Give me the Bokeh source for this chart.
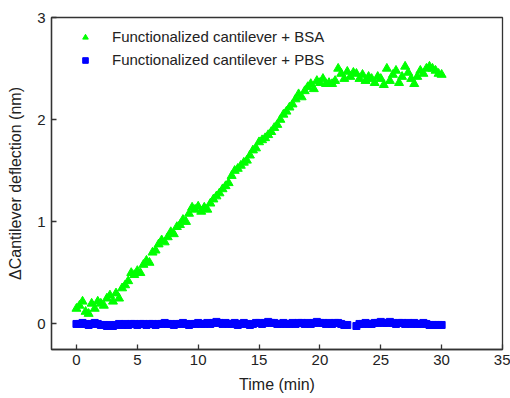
from bokeh.plotting import figure
from bokeh.embed import file_html
from bokeh.resources import INLINE
from bokeh.models import Legend, LegendItem, FixedTicker

# ---- data ----
bsa_time = [i * 0.25 for i in range(121)]
bsa_deflection = [
    0.15, 0.18, 0.22, 0.12, 0.10, 0.20, 0.15, 0.22, 0.20, 0.18,
    0.25, 0.28, 0.22, 0.30, 0.25, 0.35, 0.38, 0.42, 0.50, 0.48,
    0.52, 0.50, 0.58, 0.62, 0.60, 0.70, 0.72, 0.78, 0.82, 0.80,
    0.85, 0.90, 0.88, 0.95, 0.97, 1.02, 1.00, 1.08, 1.14, 1.12,
    1.15, 1.10, 1.14, 1.12, 1.18, 1.22, 1.25, 1.28, 1.32, 1.35,
    1.38, 1.45, 1.50, 1.52, 1.55, 1.58, 1.60, 1.65, 1.70, 1.72,
    1.78, 1.80, 1.82, 1.85, 1.88, 1.92, 1.95, 2.00, 2.05, 2.08,
    2.12, 2.15, 2.20, 2.25, 2.22, 2.28, 2.32, 2.35, 2.30, 2.38,
    2.36, 2.40, 2.35, 2.36, 2.35, 2.38, 2.50, 2.45, 2.40, 2.47,
    2.42, 2.46, 2.45, 2.40, 2.44, 2.38, 2.42, 2.40, 2.36, 2.42,
    2.40, 2.34, 2.50, 2.38, 2.44, 2.48, 2.36, 2.42, 2.52, 2.46,
    2.40, 2.35, 2.42, 2.48, 2.45, 2.50, 2.52, 2.50, 2.48, 2.45,
    2.44,
]

pbs_time = [i * 0.25 for i in range(121) if not (22.4 < i * 0.25 < 23.0)]
pbs_deflection = [
    0.00, 0.00, 0.01, 0.00, -0.01, 0.00, 0.01, 0.00, -0.01, -0.01,
    -0.02, -0.01, -0.02, -0.01, 0.00, -0.01, 0.00, -0.01, 0.00, 0.00,
    -0.01, 0.00, 0.00, -0.01, 0.00, 0.00, -0.01, 0.00, 0.00, 0.01,
    0.00, 0.00, -0.01, 0.00, 0.00, 0.01, 0.00, -0.01, 0.00, 0.00,
    0.01, 0.00, 0.00, 0.01, 0.00, 0.01, 0.02, 0.01, 0.00, 0.01,
    0.00, 0.00, 0.01, -0.01, 0.00, 0.01, 0.00, -0.01, 0.00, 0.01,
    0.01, 0.00, 0.01, 0.02, 0.01, 0.01, 0.00, 0.00, 0.01, 0.00,
    0.00, 0.01, 0.00, 0.01, 0.01, 0.00, 0.01, 0.00, 0.01, 0.02,
    0.01, 0.01, 0.00, 0.01, 0.00, 0.01, 0.01, 0.00, -0.01, -0.01,
    -0.02,
    0.00, 0.00, 0.01, 0.00, 0.00, 0.01, 0.01, 0.02, 0.01, 0.01,
    0.02, 0.01, 0.00, 0.01, 0.01, 0.00, 0.01, 0.00, 0.01, 0.00,
    0.00, 0.01, 0.00, -0.01, -0.01, -0.01, -0.01, -0.01,
]

x_ticks = [0, 5, 10, 15, 20, 25, 30, 35]
y_ticks = [0, 1, 2, 3]
bsa_label = "Functionalized cantilever + BSA"
pbs_label = "Functionalized cantilever + PBS"

FONT = "Liberation Sans"
TXT = "#222222"

p = figure(width=510, height=398, output_backend="svg", toolbar_location=None,
           x_range=(-2.05, 35), y_range=(-0.25, 3.0),
           min_border_left=51, min_border_right=8, min_border_top=17, min_border_bottom=49)

p.xgrid.visible = False
p.ygrid.visible = False
p.outline_line_color = "#333333"
p.outline_line_width = 1.3
p.background_fill_color = "white"
p.border_fill_color = "white"

n = min(len(pbs_time), len(pbs_deflection))
r_pbs = p.scatter(pbs_time[:n], pbs_deflection[:n], marker="square", size=7,
                  fill_color="#0000ff", line_color="#0000ff")
r_bsa = p.scatter(bsa_time, bsa_deflection, marker="triangle", size=9,
                  fill_color="#00ff00", line_color="#00ff00")

for ax, ticks in ((p.xaxis[0], x_ticks), (p.yaxis[0], y_ticks)):
    ax.ticker = FixedTicker(ticks=ticks)
    ax.minor_tick_line_color = None
    ax.major_tick_in = 5
    ax.major_tick_out = 0
    ax.axis_line_color = "#333333"
    ax.axis_line_width = 1.3
    ax.major_tick_line_color = "#333333"
    ax.major_tick_line_width = 1.3
    ax.major_label_text_font = FONT
    ax.major_label_text_font_size = "15px"
    ax.major_label_text_color = TXT
    ax.axis_label_text_font = FONT
    ax.axis_label_text_font_size = "16px"
    ax.axis_label_text_font_style = "normal"
    ax.axis_label_text_color = TXT

p.xaxis.axis_label = "Time (min)"
p.yaxis.axis_label = "\u0394Cantilever deflection (nm)"
p.xaxis.major_label_standoff = 5
p.yaxis.major_label_standoff = 6
p.xaxis.axis_label_standoff = 8
p.yaxis.axis_label_standoff = 10

legend = Legend(items=[LegendItem(label=bsa_label, renderers=[r_bsa]),
                       LegendItem(label=pbs_label, renderers=[r_pbs])],
                location=(24, 281), padding=0, margin=0, spacing=6,
                glyph_width=20, glyph_height=14, label_height=14,
                label_standoff=17, border_line_color=None,
                background_fill_alpha=0,
                label_text_font=FONT, label_text_font_size="15px",
                label_text_color=TXT)
p.add_layout(legend)

open("out.html", "w").write(file_html(p, INLINE))
